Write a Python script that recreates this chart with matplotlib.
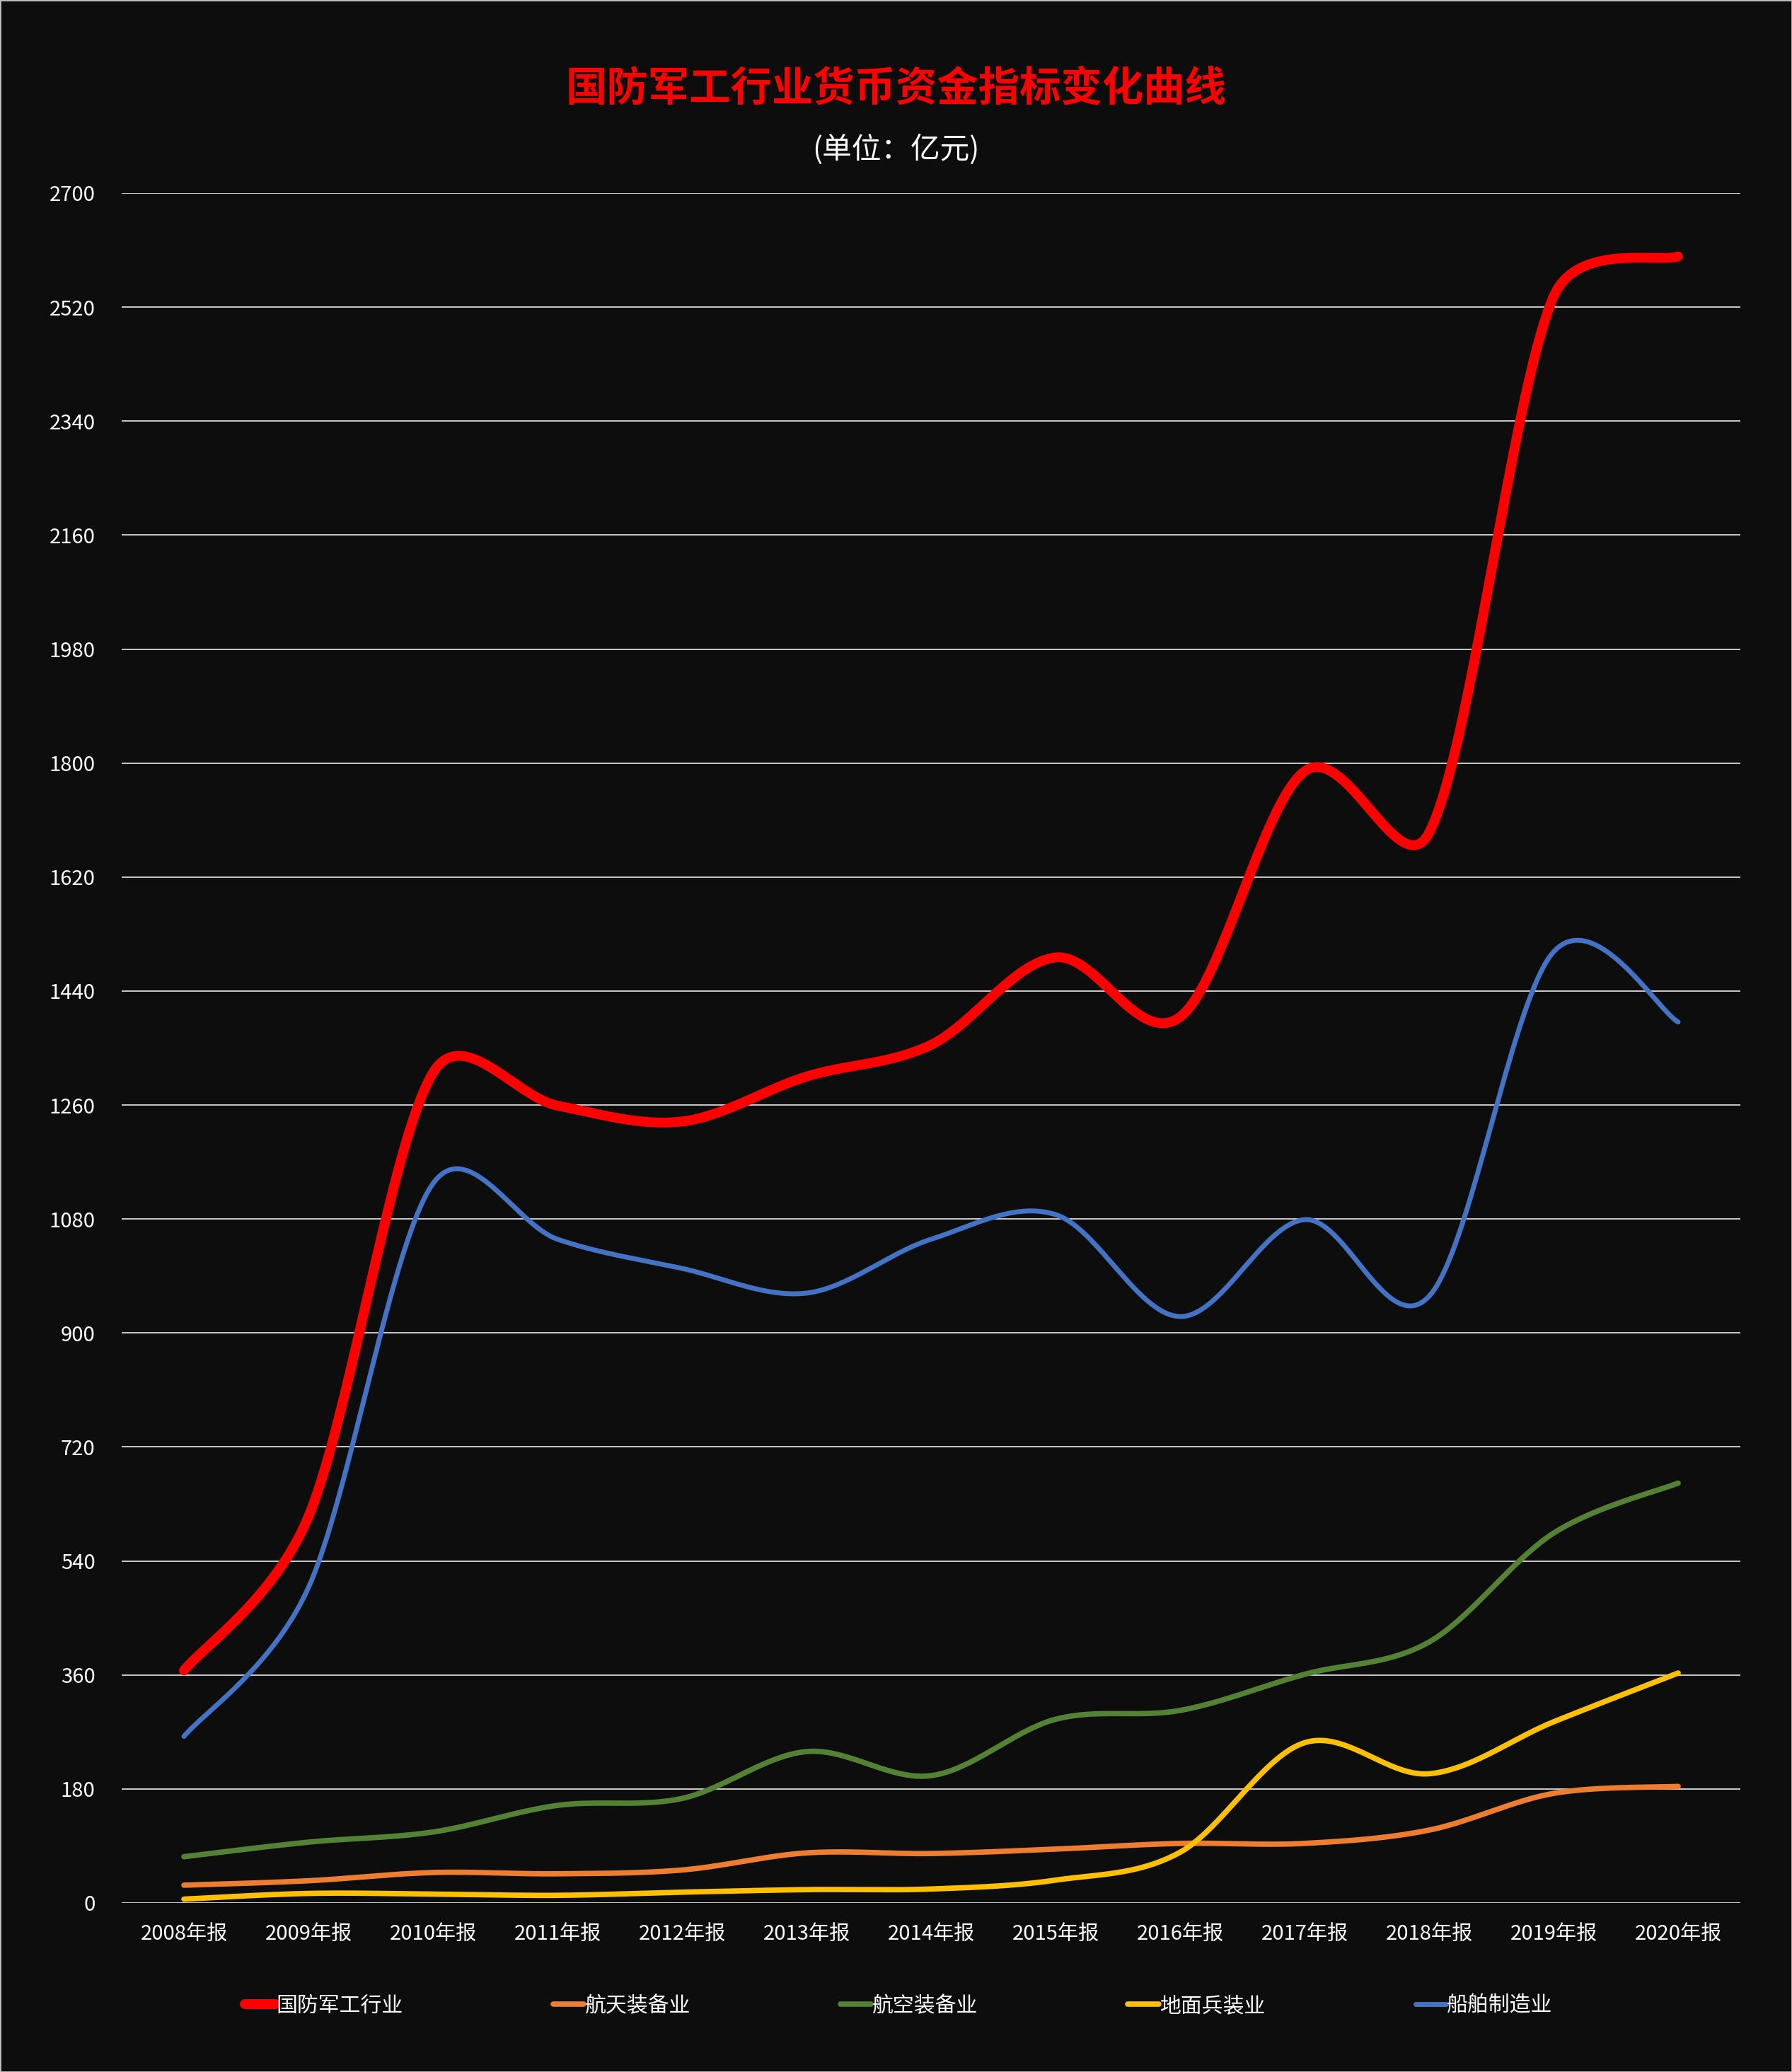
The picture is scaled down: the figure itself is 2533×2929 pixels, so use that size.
import numpy as np
import matplotlib
matplotlib.use("Agg")
import matplotlib.pyplot as plt
from matplotlib.patches import Rectangle

plt.rcParams['font.family'] = ['Noto Sans CJK SC', 'DejaVu Sans']

# data (亿元)
years = ['2008年报', '2009年报', '2010年报', '2011年报', '2012年报', '2013年报', '2014年报',
         '2015年报', '2016年报', '2017年报', '2018年报', '2019年报', '2020年报']
defense = [367, 610, 1311, 1259, 1234, 1305, 1355, 1493, 1399, 1787, 1690, 2537, 2600]
space = [28, 35, 48, 46, 52, 79, 78, 85, 94, 94, 115, 173, 184]
aviation = [73, 96, 112, 154, 165, 239, 201, 290, 304, 361, 412, 584, 663]
ground = [6, 15, 14, 12, 17, 21, 22, 36, 80, 253, 204, 286, 363]
ship = [263, 498, 1136, 1048, 1002, 963, 1048, 1087, 926, 1079, 958, 1502, 1391]

series = [
    ('国防军工行业', defense, '#ff0000', 10),
    ('航天装备业', space, '#ed7d31', 5.5),
    ('航空装备业', aviation, '#548235', 5.5),
    ('地面兵装业', ground, '#ffc000', 5.5),
    ('船舶制造业', ship, '#4472c4', 5),
]

bg = '#0d0d0d'
W, H = 2533, 2929
ax_rect = [0.0679, 0.0816, 0.9033, 0.8252]
ymax = 2700


# bezier smoothing through the points, worked out in pixel space so it
# behaves like the office chart smoothing (control arms kept short)
def smooth(xs, ys, sx, sy, n=40, k=0.45):
    p = np.column_stack([np.asarray(xs, float) * sx, np.asarray(ys, float) * sy])
    m = len(p)
    out = []
    t = np.linspace(0, 1, n)[:, None]
    for i in range(m - 1):
        p0 = p[max(i - 1, 0)]
        p1, p2 = p[i], p[i + 1]
        p3 = p[min(i + 2, m - 1)]
        seg = np.linalg.norm(p2 - p1)
        a = (p2 - p0) / 6
        b = (p3 - p1) / 6
        if np.linalg.norm(a) > k * seg:
            a = a / np.linalg.norm(a) * k * seg
        if np.linalg.norm(b) > k * seg:
            b = b / np.linalg.norm(b) * k * seg
        c1, c2 = p1 + a, p2 - b
        out.append((1 - t)**3 * p1 + 3 * (1 - t)**2 * t * c1 + 3 * (1 - t) * t**2 * c2 + t**3 * p2)
    out = np.vstack(out)
    return out[:, 0] / sx, out[:, 1] / sy


fig = plt.figure(figsize=(W / 100, H / 100), dpi=100, facecolor=bg)
ax = fig.add_axes(ax_rect, facecolor=bg)

x = np.arange(len(years))
px_x = ax_rect[2] * W / len(years)
px_y = ax_rect[3] * H / ymax
for name, vals, color, lw in series:
    cx, cy = smooth(x, vals, px_x, px_y)
    ax.plot(cx, cy, color=color, lw=lw, label=name, solid_capstyle='round', zorder=3)

ax.set_xlim(-0.5, len(years) - 0.5)
ax.set_ylim(0, ymax)
ax.set_yticks(np.arange(0, ymax + 1, 180))
ax.set_xticks(x)
ax.set_xticklabels(years)
ax.grid(axis='y', color='#d9d9d9', lw=1.3, zorder=1)
ax.tick_params(axis='both', length=0, colors='white', labelsize=21)
ax.tick_params(axis='y', pad=27)
ax.tick_params(axis='x', pad=21)
for s in ax.spines.values():
    s.set_visible(False)

fig.text(0.5, 0.957, '国防军工行业货币资金指标变化曲线', color='#ff0000', fontsize=42,
         fontweight='bold', ha='center', va='center')
fig.text(0.5, 0.928, '(单位：亿元)', color='white', fontsize=30, ha='center', va='center')

leg = fig.legend(loc='center', bbox_to_anchor=(0.5015, 0.032), ncol=5, frameon=False,
                 fontsize=21.5, handlelength=1.45, handletextpad=0.05, columnspacing=7.1,
                 labelcolor='white')
for line in leg.get_lines():
    line.set_solid_capstyle('round')

# thin light frame around the picture
fig.patches.append(Rectangle((0, 0), 1, 1, transform=fig.transFigure, fill=False,
                             edgecolor='#bfbfbf', lw=2))

fig.savefig('out.png', dpi=100, facecolor=bg)
